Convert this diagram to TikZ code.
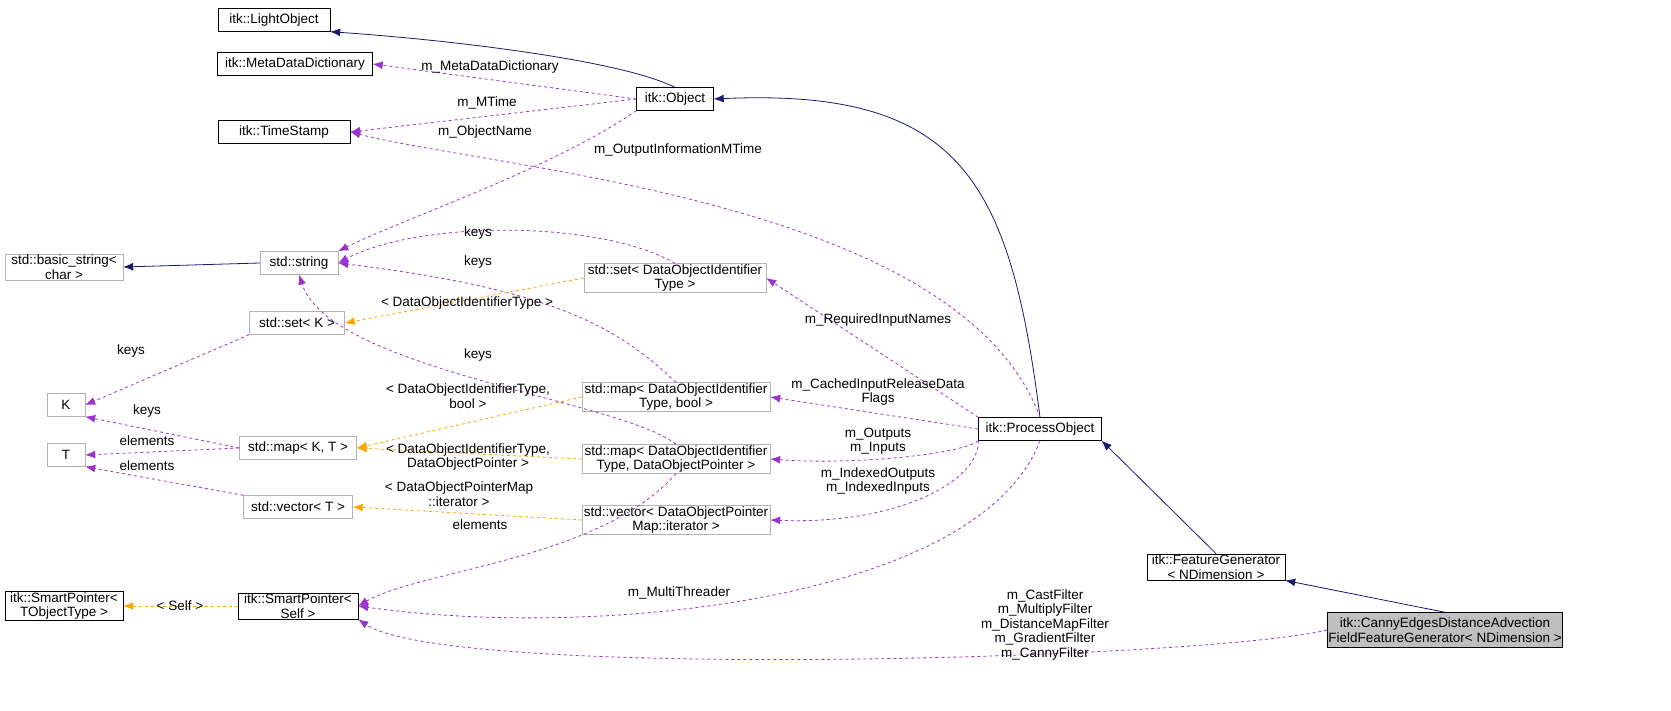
\documentclass[tikz,border=0pt]{standalone}
\usepackage{fontspec}
\setmainfont{Liberation Sans}
\usetikzlibrary{arrows.meta}
\definecolor{pur}{HTML}{9A32CD}
\definecolor{nav}{HTML}{191970}
\definecolor{org}{HTML}{FFA500}
\begin{document}
\begin{tikzpicture}[x=1pt,y=-1pt,
 every node/.style={font=\fontsize{13.5}{14.5}\selectfont},
 bb/.style={draw=black,fill=white,inner sep=1pt,minimum height=23,align=center},
 gb/.style={draw=gray!60,fill=white,inner sep=1pt,minimum height=23,align=center},
 lab/.style={align=center,inner sep=0pt},
 inh/.style={draw=nav,line width=0.8pt,-{Latex[length=10,width=8]}},
 mem/.style={draw=pur,dashed,line width=0.8pt,-{Latex[length=10,width=8]}},
 tpl/.style={draw=org,dashed,line width=0.8pt,-{Latex[length=10,width=8]}}]
\useasboundingbox (0,0) rectangle (1671,711);
\node[bb,minimum width=112] (lo) at (274,20) {itk::LightObject};
\node[bb,minimum width=155] (md) at (295,64) {itk::MetaDataDictionary};
\node[bb,minimum width=132] (ts) at (284,132) {itk::TimeStamp};
\node[bb,minimum width=77] (ob) at (675,99) {itk::Object};
\node[gb,minimum width=118] (bs) at (64,267) {std::basic\_string<\\ char >};
\node[gb,minimum width=78] (ss) at (299,263) {std::string};
\node[gb,minimum width=95] (sk) at (297,323) {std::set< K >};
\node[gb,minimum width=38] (k) at (66,405) {K};
\node[gb,minimum width=38] (t) at (66,455) {T};
\node[gb,minimum width=117] (mkt) at (298,448) {std::map< K, T >};
\node[gb,minimum width=109] (vt) at (298,507) {std::vector< T >};
\node[bb,minimum width=118] (spt) at (64,606) {itk::SmartPointer<\\ TObjectType >};
\node[bb,minimum width=120] (sps) at (298,606) {itk::SmartPointer<\\ Self >};
\node[gb,minimum width=182] (sd) at (675,278) {std::set< DataObjectIdentifier\\ Type >};
\node[gb,minimum width=188] (mb) at (676,397) {std::map< DataObjectIdentifier\\ Type, bool >};
\node[gb,minimum width=188] (mp) at (676,459) {std::map< DataObjectIdentifier\\ Type, DataObjectPointer >};
\node[gb,minimum width=188] (vi) at (676,520) {std::vector< DataObjectPointer\\ Map::iterator >};
\node[bb,minimum width=123] (po) at (1040,429) {itk::ProcessObject};
\node[bb,minimum width=138] (fg) at (1216,567) {itk::FeatureGenerator\\ < NDimension >};
\node[draw=black,fill=gray!50,inner sep=1pt,minimum height=35,minimum width=234,align=center] (cg) at (1445,630) {itk::CannyEdgesDistanceAdvection\\ FieldFeatureGenerator< NDimension >};
% inheritance
\draw[inh] (ob.north) .. controls (620,60) and (450,40) .. (lo.south east);
\draw[inh] (po.north) .. controls (1010,180) and (960,88) .. (ob.east);
\draw[inh] (fg.north) -- (po.south east);
\draw[inh] (cg.north) -- (fg.south east);
\draw[inh] (ss.west) -- (bs.east);
% members
\draw[mem] (ob.west) -- (md.east); \node[lab] (l1) at (490,67) {m\_MetaDataDictionary};
\draw[mem] (ob.west) -- (ts.east); \node[lab] (l2) at (487,103) {m\_MTime};
\draw[mem] (po.north) .. controls (960,200) and (500,170) .. (ts.east); \node[lab] (l3) at (678,150) {m\_OutputInformationMTime};
\draw[mem] (ob.south west) .. controls (550,170) and (400,220) .. (ss.north east); \node[lab] (l4) at (485,132) {m\_ObjectName};
\draw[mem] (sd.north) .. controls (600,220) and (420,220) .. (ss.east); \node[lab] (l5) at (478,233) {keys};
\draw[mem] (mb.north) .. controls (620,330) and (560,290) .. (ss.east); \node[lab] (l6) at (478,262) {keys};
\draw[mem] (mp.north) .. controls (620,400) and (330,370) .. (ss.south); \node[lab] (l7) at (478,355) {keys};
\draw[tpl] (sd.west) -- (sk.east); \node[lab] (l8) at (467,303) {< DataObjectIdentifierType >};
\draw[mem] (sk.south west) -- (k.east); \node[lab] (l9) at (131,351) {keys};
\draw[mem] (mkt.west) -- (k.south east); \node[lab] (l10) at (147,411) {keys};
\draw[mem] (mkt.west) -- (t.east); \node[lab] (l11) at (147,441) {elements};
\draw[mem] (vt.north west) -- (t.south east); \node[lab] (l12) at (147,466) {elements};
\draw[tpl] (mb.west) -- (mkt.east); \node[lab] (l13) at (468,396) {< DataObjectIdentifierType,\\ bool >};
\draw[tpl] (mp.west) -- (mkt.east); \node[lab] (l14) at (468,457) {< DataObjectIdentifierType,\\ DataObjectPointer >};
\draw[tpl] (vi.west) -- (vt.east); \node[lab] (l15) at (459,494) {< DataObjectPointerMap\\ ::iterator >};
\draw[mem] (mp.south) .. controls (600,560) and (420,570) .. (sps.east); \node[lab] (l16) at (480,525) {elements};
\draw[tpl] (sps.west) -- (spt.east); \node[lab] (l17) at (180,606) {< Self >};
\draw[mem] (po.north west) -- (sd.east); \node[lab] (l18) at (878,320) {m\_RequiredInputNames};
\draw[mem] (po.west) -- (mb.east); \node[lab] (l19) at (878,392) {m\_CachedInputReleaseData\\Flags};
\draw[mem] (po.south west) .. controls (960,455) and (850,465) .. (mp.east); \node[lab] (l20) at (878,441) {m\_Outputs\\m\_Inputs};
\draw[mem] (po.south west) .. controls (980,480) and (900,525) .. (vi.east); \node[lab] (l21) at (878,481) {m\_IndexedOutputs\\m\_IndexedInputs};
\draw[mem] (po.south) .. controls (980,600) and (600,640) .. (sps.east); \node[lab] (l22) at (679,593) {m\_MultiThreader};
\draw[mem] (cg.west) .. controls (1200,660) and (450,680) .. (sps.south east); \node[lab] (l23) at (1045,625) {m\_CastFilter\\m\_MultiplyFilter\\m\_DistanceMapFilter\\m\_GradientFilter\\m\_CannyFilter};
\end{tikzpicture}
\end{document}
